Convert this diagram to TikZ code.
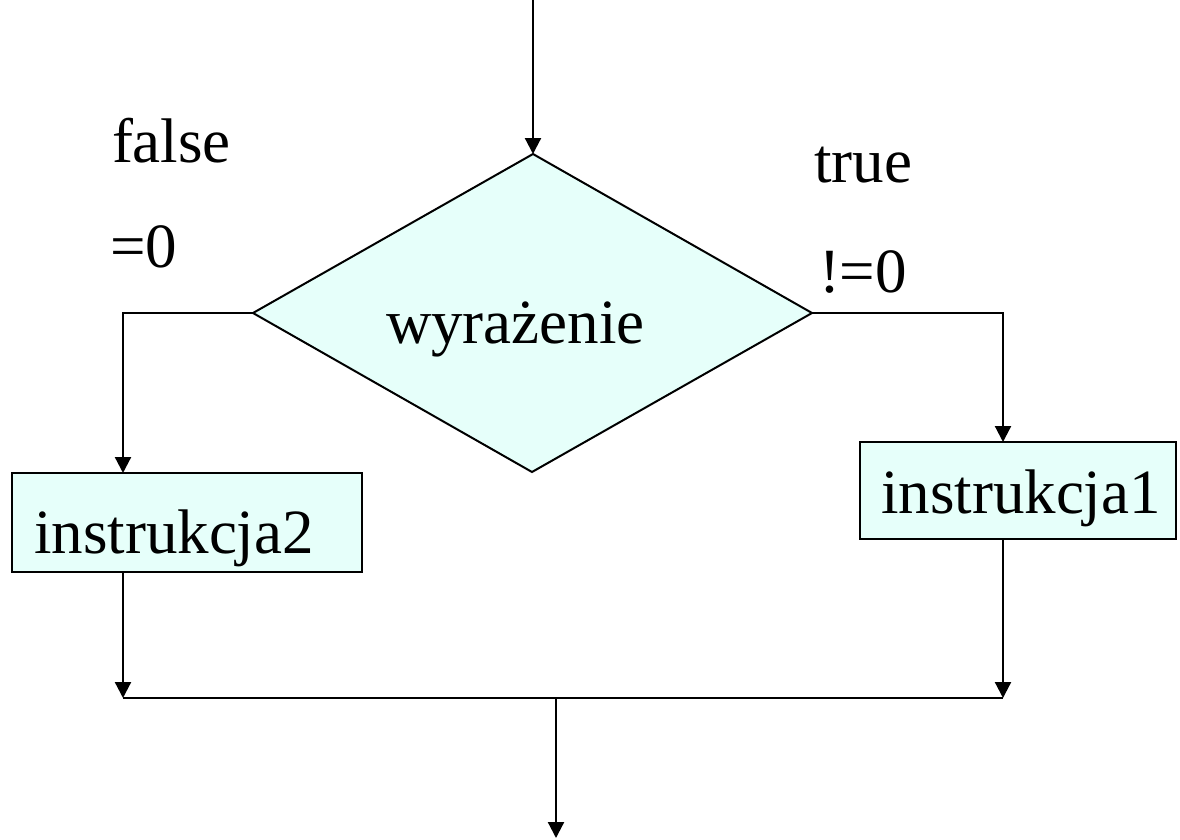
\documentclass[tikz,border=0pt]{standalone}
\usepackage{fontspec}
\setmainfont{Liberation Serif}
\usetikzlibrary{arrows.meta}
\definecolor{boxfill}{RGB}{230,255,250}
\begin{document}
\begin{tikzpicture}[x=1pt,y=-1pt,
  line width=2pt,
  conn/.style={draw=black,line width=2.2pt},
  arr/.style={conn,-{Triangle[width=16pt,length=16pt]}},
  lbl/.style={anchor=base west,inner sep=0pt,font=\fontsize{63}{72}\selectfont},
  proc/.style={draw=black,line width=2pt,fill=boxfill}]
\useasboundingbox (0,0) rectangle (1180,839);
% diamond
\coordinate (dt) at (533,154);
\coordinate (dl) at (253,313);
\coordinate (dr) at (812,313);
\coordinate (db) at (532,472);
\draw[proc,line join=miter] (dt) -- (dr) -- (db) -- (dl) -- cycle;
\node[lbl] (cond) at (385,343) {wyrażenie};
% boxes
\draw[proc] (12,473) rectangle (362,572);
\node[lbl] (i2) at (33,553) {instrukcja2};
\coordinate (b2t) at (123,473);
\coordinate (b2b) at (123,572);
\draw[proc] (860,442) rectangle (1176,539);
\node[lbl] (i1) at (880,513) {instrukcja1};
\coordinate (b1t) at (1003,442);
\coordinate (b1b) at (1003,539);
% labels
\node[lbl] (lf) at (111,162) {false};
\node[lbl] (l0) at (109,267) {=0};
\node[lbl] (lt) at (813,182) {true};
\node[lbl] (ln0) at (818,292) {!=0};
% connectors
\coordinate (top) at (533,0);
\draw[arr] (top) -- (dt);
\coordinate (lc) at (123,313);
\draw[arr] (dl) -- (lc) -- (b2t);
\coordinate (rc) at (1003,313);
\draw[arr] (dr) -- (rc) -- (b1t);
\coordinate (jl) at (123,698);
\coordinate (jr) at (1003,698);
\draw[arr] (b2b) -- (jl);
\draw[arr] (b1b) -- (jr);
\draw[conn] (jl) -- (jr);
\coordinate (jm) at (556,698);
\coordinate (out) at (556,838);
\draw[arr] (jm) -- (out);
\end{tikzpicture}
\end{document}
